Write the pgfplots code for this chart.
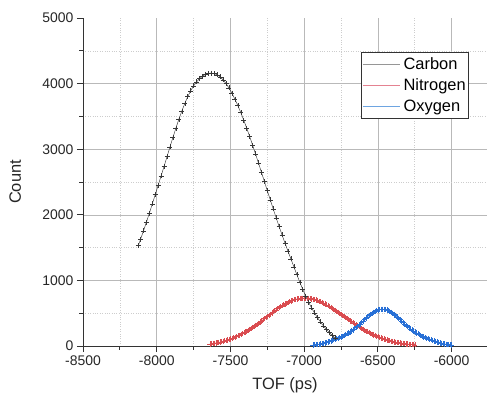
\documentclass[border=0pt]{standalone}
\usepackage{fontspec}
\setmainfont{Liberation Sans}
\usepackage{pgfplots}
\pgfplotsset{compat=1.18}
\definecolor{cblack}{RGB}{55,55,55}
\definecolor{nred}{RGB}{218,76,80}
\definecolor{oblue}{RGB}{40,112,214}
\definecolor{gridmaj}{RGB}{185,185,185}
\definecolor{gridmin}{RGB}{205,205,205}
\definecolor{lgray}{RGB}{150,150,150}
\definecolor{lred}{RGB}{228,130,145}
\definecolor{lblue}{RGB}{110,165,225}
\begin{document}
\begin{tikzpicture}
\useasboundingbox (-83bp,-50bp) rectangle (404bp,346bp);
\begin{axis}[
  scale only axis, width=404bp, height=328bp,
  xmin=-8500, xmax=-5760, ymin=0, ymax=5000,
  axis x line*=bottom, axis y line*=left,
  axis line style={black!80, line width=0.8pt},
  xtick={-8500,-8000,...,-6000},
  minor xtick={-8250,-7750,-7250,-6750,-6250},
  ytick={0,1000,2000,3000,4000},
  extra y ticks={5000}, extra y tick style={grid=none},
  minor ytick={500,1500,2500,3500,4500},
  tick align=outside, major tick length=6bp, minor tick length=3.5bp,
  tick style={black!80, line width=0.8pt},
  xmajorgrids, ymajorgrids, xminorgrids, yminorgrids,
  major grid style={gridmaj, line width=0.6pt},
  minor grid style={gridmin, dotted, line width=0.6pt},
  /pgf/number format/assume math mode=true,
  /pgf/number format/1000 sep={},
  ticklabel style={font=\fontsize{14}{16}\selectfont, black!85},
  xlabel={TOF (ps)}, ylabel={Count},
  every axis x label/.style={at={(axis description cs:0.5,-0.119)}, anchor=center, font=\fontsize{16.5}{19}\selectfont, black!85},
  every axis y label/.style={at={(axis description cs:-0.168,0.5)}, rotate=90, anchor=center, font=\fontsize{16.5}{19}\selectfont, black!85},
  legend style={at={(rel axis cs:0.9554,0.8963)}, anchor=north east, draw=black!80, line width=0.6pt, fill=white,
    font=\fontsize{16.5}{19}\selectfont, inner xsep=1bp, inner ysep=3bp, row sep=4bp, nodes={inner sep=2bp}},
  legend cell align=left,
]
\addlegendimage{legend image code/.code={\draw[lgray, line width=0.5pt] (0bp,0bp) -- (37bp,0bp); \path (38.5bp,0bp);}}
\addlegendentry{Carbon}
\addlegendimage{legend image code/.code={\draw[lred, line width=0.5pt] (0bp,0bp) -- (37bp,0bp); \path (38.5bp,0bp);}}
\addlegendentry{Nitrogen}
\addlegendimage{legend image code/.code={\draw[lblue, line width=0.5pt] (0bp,0bp) -- (37bp,0bp); \path (38.5bp,0bp);}}
\addlegendentry{Oxygen}

\addplot[forget plot, nred, line width=0.5pt, mark=+, mark size=2.6bp, mark options={line width=0.4pt}] coordinates {
(-7640,31)(-7630,35)(-7620,38)(-7610,42)(-7600,46)(-7590,50)(-7580,55)(-7570,60)(-7560,65)(-7550,71)(-7540,78)(-7530,84)(-7520,91)(-7510,99)(-7500,107)(-7490,115)(-7480,124)(-7470,134)(-7460,143)(-7450,154)(-7440,165)(-7430,176)(-7420,188)(-7410,200)(-7400,213)(-7390,227)(-7380,240)(-7370,255)(-7360,269)(-7350,285)(-7340,300)(-7330,316)(-7320,332)(-7310,349)(-7300,365)(-7290,382)(-7280,399)(-7270,417)(-7260,434)(-7250,451)(-7240,469)(-7230,486)(-7220,503)(-7210,520)(-7200,537)(-7190,553)(-7180,569)(-7170,585)(-7160,600)(-7150,614)(-7140,628)(-7130,641)(-7120,653)(-7110,665)(-7100,676)(-7090,686)(-7080,695)(-7070,703)(-7060,710)(-7050,716)(-7040,721)(-7030,725)(-7020,728)(-7010,729)(-7000,730)
(-6990,730)(-6980,728)(-6970,726)(-6960,722)(-6950,718)(-6940,713)(-6930,707)(-6920,700)(-6910,692)(-6900,683)(-6890,674)(-6880,664)(-6870,653)(-6860,641)(-6850,629)(-6840,616)(-6830,603)(-6820,589)(-6810,575)(-6800,560)(-6790,545)(-6780,530)(-6770,515)(-6760,499)(-6750,483)(-6740,467)(-6730,451)(-6720,435)(-6710,419)(-6700,403)(-6690,387)(-6680,371)(-6670,355)(-6660,340)(-6650,325)(-6640,310)(-6630,295)(-6620,281)(-6610,267)(-6600,253)(-6590,240)(-6580,227)(-6570,215)(-6560,203)(-6550,191)(-6540,180)(-6530,169)(-6520,159)(-6510,149)(-6500,140)(-6490,131)(-6480,122)(-6470,114)(-6460,106)(-6450,99)(-6440,92)(-6430,85)(-6420,79)(-6410,73)(-6400,68)(-6390,62)(-6380,57)(-6370,53)(-6360,49)(-6350,45)(-6340,41)(-6330,38)(-6320,34)(-6310,31)(-6300,29)(-6290,26)(-6280,24)(-6270,22)(-6260,20)(-6250,18)
};
\addplot[forget plot, oblue, line width=0.5pt, mark=+, mark size=2.6bp, mark options={line width=0.4pt}] coordinates {
(-6940,15)(-6930,18)(-6920,21)(-6910,24)(-6900,27)(-6890,31)(-6880,36)(-6870,41)(-6860,47)(-6850,53)(-6840,60)(-6830,67)(-6820,76)(-6810,85)(-6800,95)(-6790,102)(-6780,110)(-6770,119)(-6760,128)(-6750,138)(-6740,149)(-6730,161)(-6720,173)(-6710,186)(-6700,199)(-6690,214)(-6680,229)(-6670,245)(-6660,262)(-6650,279)(-6640,297)(-6630,316)(-6620,335)(-6610,358)(-6600,381)(-6590,403)(-6580,425)(-6570,446)(-6560,465)(-6550,484)(-6540,501)(-6530,516)(-6520,529)(-6510,540)(-6500,549)(-6490,555)(-6480,559)(-6470,560)
(-6460,559)(-6450,555)(-6440,549)(-6430,540)(-6420,529)(-6410,516)(-6400,501)(-6390,484)(-6380,465)(-6370,446)(-6360,425)(-6350,403)(-6340,381)(-6330,358)(-6320,335)(-6310,316)(-6300,297)(-6290,279)(-6280,262)(-6270,245)(-6260,229)(-6250,214)(-6240,199)(-6230,186)(-6220,173)(-6210,161)(-6200,149)(-6190,138)(-6180,128)(-6170,119)(-6160,110)(-6150,102)(-6140,95)(-6130,85)(-6120,76)(-6110,67)(-6100,60)(-6090,53)(-6080,47)(-6070,41)(-6060,36)(-6050,31)(-6040,27)(-6030,24)(-6020,21)(-6010,18)(-6000,15)
};
\addplot[forget plot, cblack, line width=0.45pt, mark=+, mark size=2.5bp, mark options={line width=0.45pt}] coordinates {
(-8125,1530)
(-8110,1625)(-8090,1754)(-8070,1888)(-8050,2025)(-8030,2165)(-8010,2308)(-7990,2451)(-7970,2595)(-7950,2739)(-7930,2887)(-7910,3035)(-7890,3180)(-7870,3320)(-7850,3455)(-7830,3580)(-7810,3695)(-7790,3800)(-7770,3890)(-7750,3965)(-7730,4025)(-7710,4075)(-7690,4112)(-7670,4140)(-7650,4156)(-7630,4160)
(-7610,4154)(-7590,4134)(-7570,4102)(-7550,4057)(-7530,4001)(-7510,3933)(-7490,3854)(-7470,3765)(-7450,3666)(-7430,3559)(-7410,3444)(-7390,3323)(-7370,3196)(-7350,3064)(-7330,2928)(-7310,2790)(-7290,2650)(-7270,2509)(-7250,2368)(-7230,2229)(-7210,2090)(-7190,1955)(-7170,1822)(-7150,1693)(-7130,1569)(-7110,1447)(-7090,1327)(-7070,1208)(-7050,1090)(-7030,975)(-7010,865)(-6990,762)(-6970,668)(-6950,582)(-6930,504)(-6910,433)(-6890,368)(-6870,309)(-6850,255)(-6830,206)(-6810,162)(-6790,122)
};
\end{axis}
\end{tikzpicture}
\end{document}
